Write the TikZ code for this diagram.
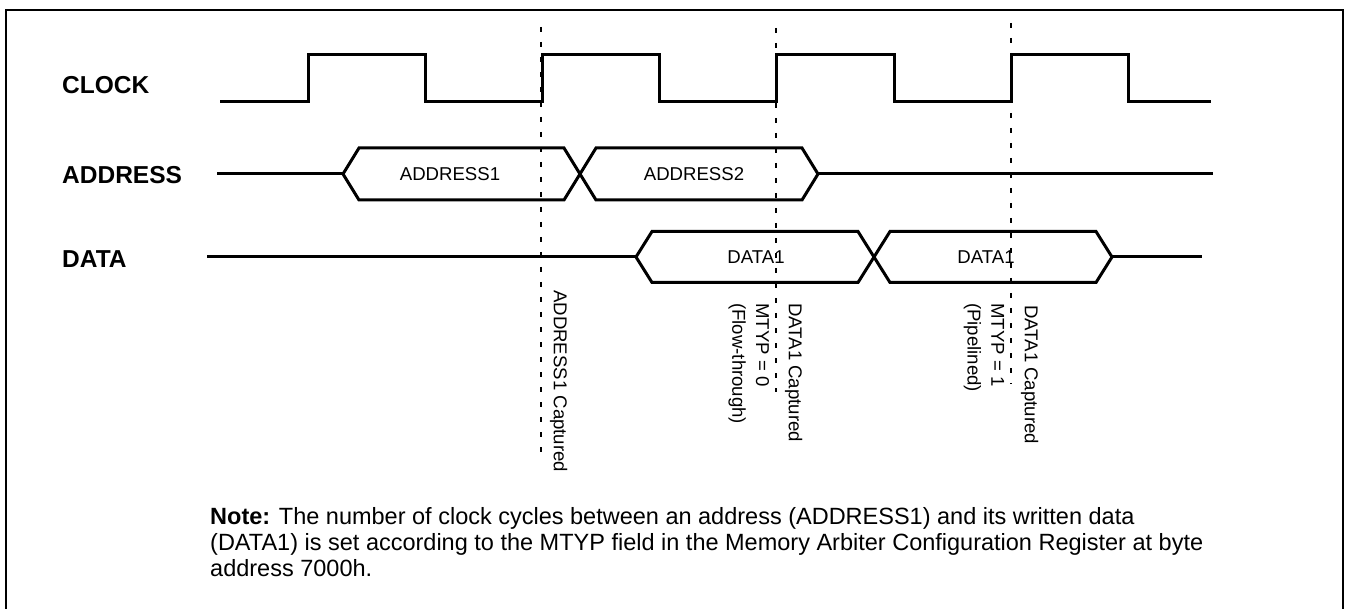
\documentclass[tikz,border=0pt]{standalone}
\usepackage{fontspec}
\setmainfont{Liberation Sans}

\tikzset{
  sig/.style={line width=3pt, line join=miter},
  edgemark/.style={line width=2.6pt, dash pattern=on 5pt off 10pt},
  siglabel/.style={font=\fontsize{24.5}{28}\selectfont\bfseries, anchor=west, inner sep=0pt},
  buslabel/.style={font=\fontsize{18.6}{22}\selectfont, inner sep=0pt},
  eventlabel/.style={font=\fontsize{18.6}{23.7}\selectfont, rotate=-90, anchor=north west, align=left, inner sep=0pt},
}

% bus segment: from x #1 to x #2, centre line #3, half height #4
\newcommand\busseg[4]{%
  \draw[sig] (#1,#3) -- (#1+16,#3-#4) -- (#2-16,#3-#4) -- (#2,#3)
             -- (#2-16,#3+#4) -- (#1+16,#3+#4) -- cycle;}

\begin{document}
\begin{tikzpicture}[x=1pt,y=-1pt]
  \useasboundingbox (0,0) rectangle (1348,609);
  \draw[line width=2pt] (6,609) -- (6,10) -- (1343,10) -- (1343,609);

  % capture edges
  \foreach \x/\top/\bot [count=\i] in {541/27/452, 776/28/392, 1011/23/384}
    \draw[edgemark] (\x,\top) coordinate (edge\i) -- (\x,\bot);

  \node[siglabel] (clk) at (62,85) {CLOCK};
  \node[siglabel] (addr) at (62,175) {ADDRESS};
  \node[siglabel] (data) at (62,259.5) {DATA};

  % clock
  \draw[sig] (220,102) -| (308,55) -| (425,102) -| (542,55) -| (659,102)
             -| (776,55) -| (894,102) -| (1011,55) -| (1128,102) -- (1211,102);

  % address bus
  \draw[sig] (217,174) -- (343,174);
  \busseg{343}{580}{174}{26}
  \busseg{580}{818}{174}{26}
  \draw[sig] (818,174) -- (1213,174);
  \node[buslabel] (adr1) at (450,174) {ADDRESS1};
  \node[buslabel] (adr2) at (694,174) {ADDRESS2};

  % data bus
  \draw[sig] (207,257) -- (636,257);
  \busseg{636}{874}{257}{25.5}
  \busseg{874}{1112}{257}{25.5}
  \draw[sig] (1112,257) -- (1202,257);
  \node[buslabel] (dat1) at (756,257) {DATA1};
  \node[buslabel] (dat2) at (986,257) {DATA1};

  \node[eventlabel] (capA) at (567.5,290) {ADDRESS1 Captured};
  \node[eventlabel] (mtyp0) at (769.3,303) {MTYP = 0\\(Flow-through)};
  \node[eventlabel] (capD0) at (802.5,303) {DATA1 Captured};
  \node[eventlabel] (mtyp1) at (1004.3,303) {MTYP = 1\\(Pipelined)};
  \node[eventlabel] (capD1) at (1038.5,305) {DATA1 Captured};

  \node[font=\fontsize{23.5}{26}\selectfont, anchor=north west, align=left, inner sep=0pt]
    (note) at (210,506.8) {\textbf{Note:} The number of clock cycles between an address (ADDRESS1) and its written data\\
    (DATA1) is set according to the MTYP field in the Memory Arbiter Configuration Register at byte\\
    address 7000h.};
\end{tikzpicture}
\end{document}
